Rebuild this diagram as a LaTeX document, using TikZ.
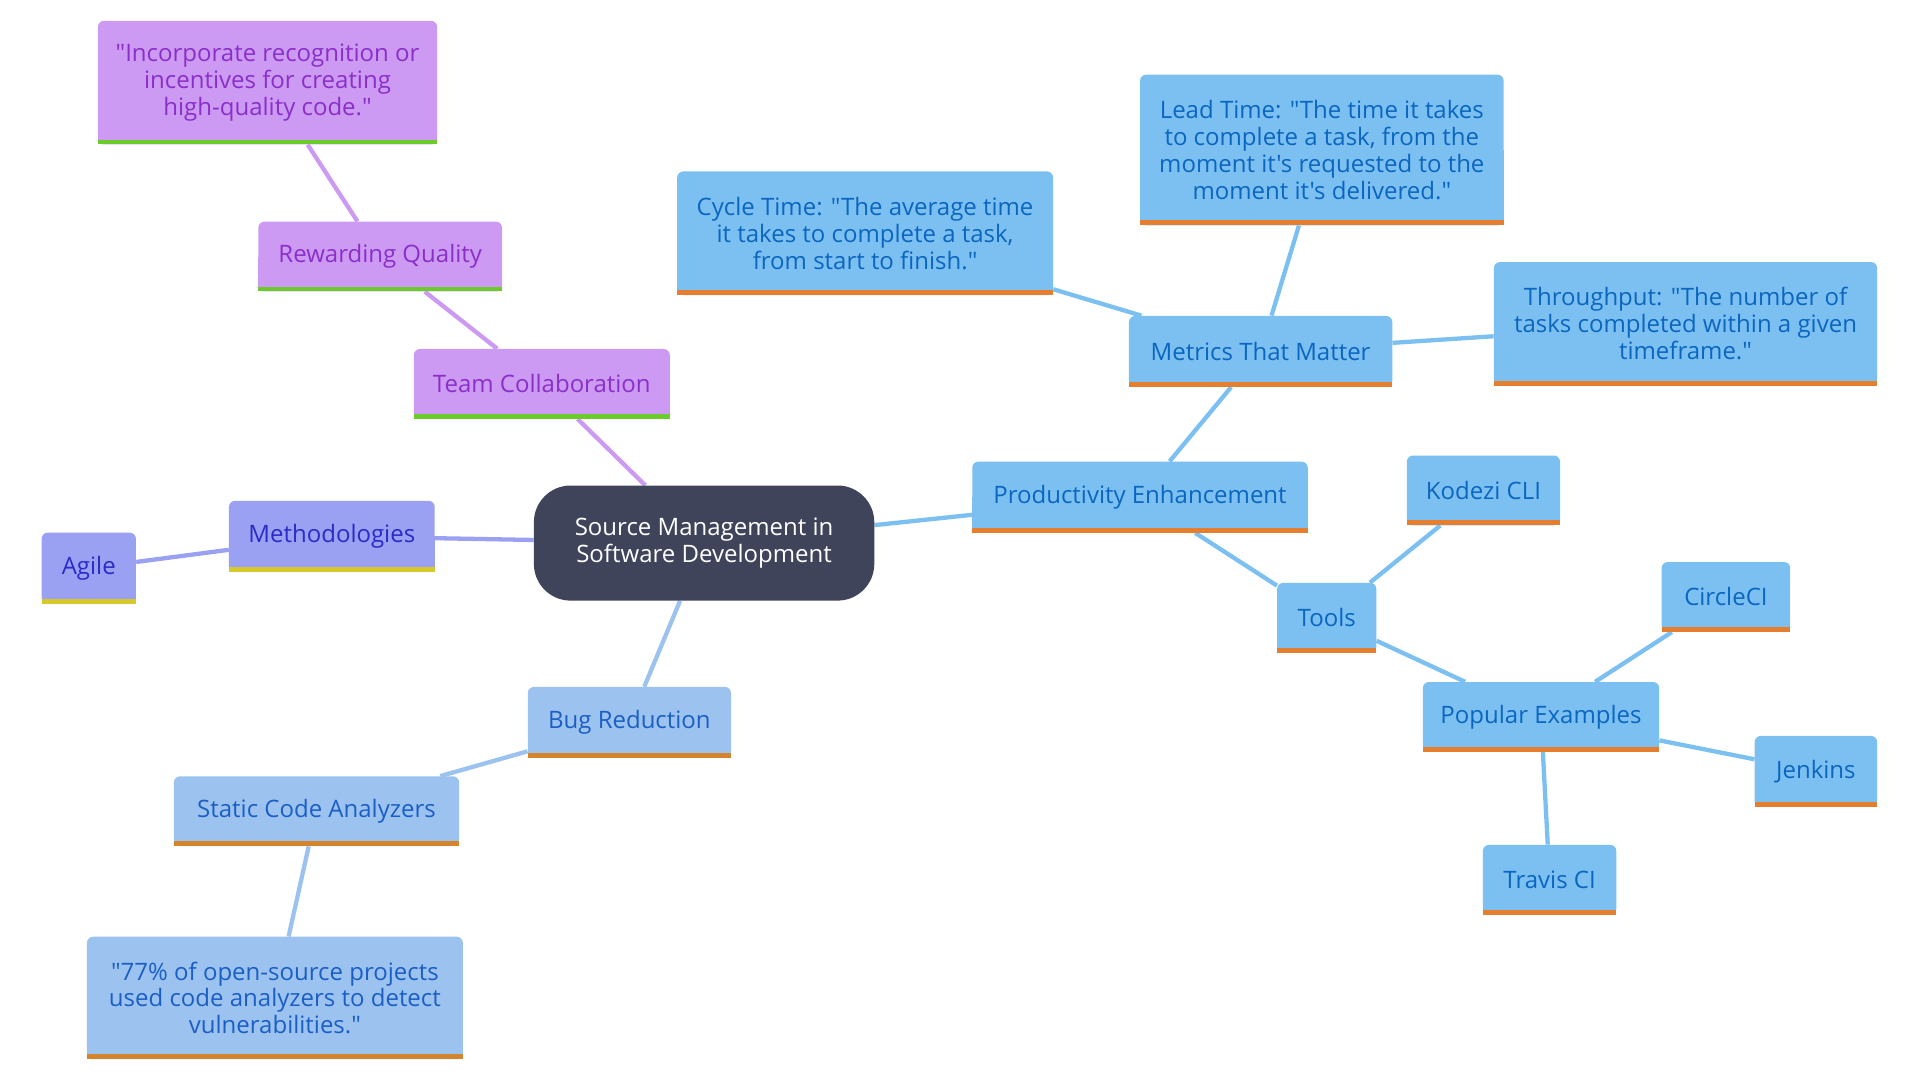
\documentclass[tikz,border=0pt]{standalone}
\usepackage{fontspec}
\setmainfont{Open Sans}[Ligatures=TeXOff]
\usetikzlibrary{backgrounds}
\definecolor{pfill}{HTML}{CC9AF2}
\definecolor{ptext}{HTML}{8B2FC9}
\definecolor{pbar}{HTML}{6BCB2B}
\definecolor{mfill}{HTML}{9AA0F2}
\definecolor{mtext}{HTML}{2B2BC8}
\definecolor{mbar}{HTML}{D6C92B}
\definecolor{bfill}{HTML}{9CC3F0}
\definecolor{btext}{HTML}{1B5FC4}
\definecolor{bbar}{HTML}{D4842B}
\definecolor{efill}{HTML}{7CC0F2}
\definecolor{etext}{HTML}{0B66BF}
\definecolor{ebar}{HTML}{E67E30}
\definecolor{cfill}{HTML}{40445B}
% #1 name, #2 x1, #3 y1, #4 x2, #5 y2, #6 fill, #7 bar, #8 text colour, #9 text
\newcommand\mmbox[9]{%
  \fill[#6, rounded corners=5pt] (#2,#3) rectangle (#4,#5);
  \fill[#6] (#2,{(#3+#5)/2}) rectangle (#4,#5);
  \fill[#7] (#2,{#5-4}) rectangle (#4,#5);
  \node[txt, text=#8, minimum width={#4-#2}, minimum height={#5-#3}] (#1) at ({(#2+#4)/2},{(#3+#5)/2}) {#9};
}
\begin{document}
\begin{tikzpicture}[x=1pt,y=-1pt,
  txt/.style={inner sep=0pt, align=center, font=\fontsize{19.6}{22}\selectfont},
  link/.style={line width=3.5pt}]
\begin{pgfonlayer}{background}
\fill[white] (0,0) rectangle (1568,882);
\end{pgfonlayer}
\useasboundingbox (0,0) rectangle (1568,882);

% centre
\node[txt, fill=cfill, text=white, rounded corners=30pt, minimum width=278, minimum height=94] (c) at (575,443.5) {Source Management in\\Software Development};

% purple branch
\mmbox{tc}{338}{285}{547}{342}{pfill}{pbar}{ptext}{Team Collaboration}
\mmbox{rq}{211}{181}{410}{238}{pfill}{pbar}{ptext}{Rewarding Quality}
\mmbox{iq}{80}{17}{357}{118}{pfill}{pbar}{ptext}{"Incorporate recognition or\\incentives for creating\\high-quality code."}

% methodologies
\mmbox{me}{187}{409}{355}{467}{mfill}{mbar}{mtext}{Methodologies}
\mmbox{ag}{34}{435}{111}{493}{mfill}{mbar}{mtext}{Agile}

% bug reduction
\mmbox{br}{431}{561}{597}{619}{bfill}{bbar}{btext}{Bug Reduction}
\mmbox{sc}{142}{634}{375}{691}{bfill}{bbar}{btext}{Static Code Analyzers}
\mmbox{sq}{71}{765}{378}{865}{bfill}{bbar}{btext}{"77\% of open-source projects\\used code analyzers to detect\\vulnerabilities."}

% productivity
\mmbox{pe}{794}{377}{1068}{435}{efill}{ebar}{etext}{Productivity Enhancement}
\mmbox{mt}{922}{258}{1137}{316}{efill}{ebar}{etext}{Metrics That Matter}
\mmbox{ct}{553}{140}{860}{241}{efill}{ebar}{etext}{Cycle Time: "The average time\\it takes to complete a task,\\from start to finish."}
\mmbox{lt}{931}{61}{1228}{184}{efill}{ebar}{etext}{Lead Time: "The time it takes\\to complete a task, from the\\moment it's requested to the\\moment it's delivered."}
\mmbox{tp}{1220}{214}{1533}{315}{efill}{ebar}{etext}{Throughput: "The number of\\tasks completed within a given\\timeframe."}
\mmbox{to}{1043}{476}{1124}{533}{efill}{ebar}{etext}{Tools}
\mmbox{kc}{1149}{372}{1274}{429}{efill}{ebar}{etext}{Kodezi CLI}
\mmbox{px}{1162}{557}{1355}{614}{efill}{ebar}{etext}{Popular Examples}
\mmbox{cc}{1357}{459}{1462}{516}{efill}{ebar}{etext}{CircleCI}
\mmbox{jk}{1433}{601}{1533}{659}{efill}{ebar}{etext}{Jenkins}
\mmbox{tr}{1211}{690}{1320}{747}{efill}{ebar}{etext}{Travis CI}

\begin{pgfonlayer}{background}
\draw[link, pfill] (c) -- (tc);
\draw[link, pfill] (tc) -- (rq);
\draw[link, pfill] (rq) -- (iq);
\draw[link, mfill] (c) -- (me);
\draw[link, mfill] (me) -- (ag);
\draw[link, bfill] (c) -- (br);
\draw[link, bfill] (br) -- (sc);
\draw[link, bfill] (sc) -- (sq);
\draw[link, efill] (c) -- (pe);
\draw[link, efill] (pe) -- (mt);
\draw[link, efill] (mt) -- (ct);
\draw[link, efill] (mt) -- (lt);
\draw[link, efill] (mt) -- (tp);
\draw[link, efill] (pe) -- (to);
\draw[link, efill] (to) -- (kc);
\draw[link, efill] (to) -- (px);
\draw[link, efill] (px) -- (cc);
\draw[link, efill] (px) -- (jk);
\draw[link, efill] (px) -- (tr);
\end{pgfonlayer}
\end{tikzpicture}
\end{document}
